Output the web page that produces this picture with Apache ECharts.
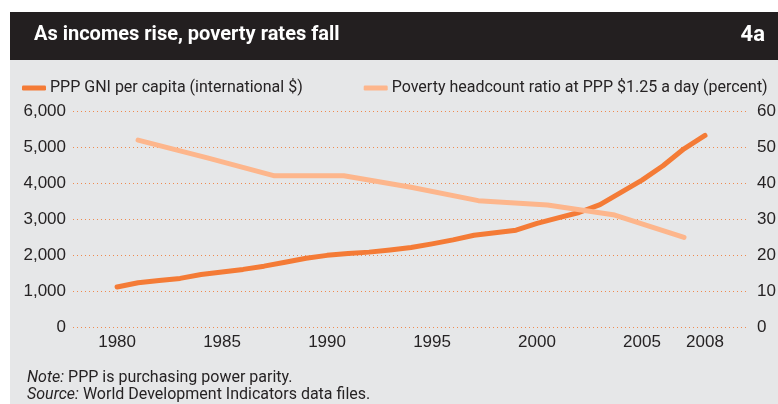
<!DOCTYPE html>
<html>
<head>
<meta charset="utf-8">
<script src="https://cdn.jsdelivr.net/npm/echarts@6/dist/echarts.min.js"></script>
<style>
  html, body { margin: 0; padding: 0; background: #fff; }
  #chart { width: 778px; height: 404px; }
</style>
</head>
<body>
<div id="chart"></div>
<script>
// Gegevens
const gniYears = [1980, 1981, 1982, 1983, 1984, 1985, 1986, 1987, 1988, 1989, 1990, 1991, 1992, 1993, 1994,
  1995, 1996, 1997, 1998, 1999, 2000, 2001, 2002, 2003, 2004, 2005, 2006, 2007, 2008];
const gniValues = [1110, 1230, 1290, 1350, 1460, 1530, 1600, 1690, 1800, 1910, 1990, 2040, 2080, 2140, 2210,
  2310, 2420, 2550, 2620, 2690, 2880, 3030, 3180, 3400, 3740, 4080, 4480, 4950, 5320];
const povertyYears = [1981, 1984.3, 1987.5, 1990.8, 1994, 1997.2, 2000.5, 2003.7, 2007];
const povertyValues = [51.9, 47.0, 42.0, 42.0, 38.8, 35.1, 33.9, 31.1, 24.9];
const xTickLabels = [1980, 1985, 1990, 1995, 2000, 2005, 2008];

const seriesNames = ['PPP GNI per capita (international $)', 'Poverty headcount ratio at PPP $1.25 a day (percent)'];

const chartInit = () => {
  const $chart = document.getElementById('chart');
  const chart = echarts.init($chart);

  const textColor = '#262324';
  const gridColor = '#ef8a4f';
  const narrowFont = 'Roboto';

  const options = {
    backgroundColor: '#ffffff',
    animation: false,
    graphic: [
      { type: 'rect', shape: { x: 10, y: 60, width: 768, height: 344 }, style: { fill: '#e6e7e8' }, z: -10 },
      { type: 'rect', shape: { x: 10, y: 12, width: 768, height: 48 }, style: { fill: '#231f20' }, z: -10 }
    ],
    title: [
      {
        text: 'As incomes rise, poverty rates fall',
        left: 34, top: 25, padding: 0,
        textStyle: { color: '#fff', fontFamily: narrowFont, fontWeight: 'bold', fontSize: 20 }
      },
      {
        text: '4a',
        right: 13, top: 24, padding: 0,
        textStyle: { color: '#fff', fontFamily: narrowFont, fontWeight: 'bold', fontSize: 22 }
      },
      {
        text: '{i|Note:} PPP is purchasing power parity.\n{i|Source:} World Development Indicators data files.',
        left: 27, top: 369, padding: 0,
        textStyle: {
          color: textColor, fontFamily: narrowFont, fontWeight: 'normal', fontSize: 16, lineHeight: 17,
          rich: { i: { fontStyle: 'italic', fontFamily: narrowFont, fontSize: 16, lineHeight: 17, color: textColor } }
        }
      }
    ],
    legend: {
      left: 22, top: 80, padding: 0,
      itemGap: 61, itemWidth: 24, itemHeight: 5,
      icon: 'roundRect',
      data: seriesNames,
      textStyle: { color: textColor, fontFamily: narrowFont, fontSize: 16, padding: [0, 0, 0, -1] }
    },
    grid: { left: 73, right: 31, top: 111, bottom: 77, containLabel: false, outerBoundsMode: 'none' },
    xAxis: {
      type: 'value',
      min: 1977.9,
      max: 2010,
      axisLine: { show: false },
      axisTick: { show: false },
      splitLine: { show: false },
      axisLabel: {
        customValues: xTickLabels,
        margin: 7,
        color: textColor,
        fontFamily: 'Liberation Sans',
        fontSize: 17,
        formatter: v => String(v)
      }
    },
    yAxis: [
      {
        type: 'value', min: 0, max: 6000, interval: 1000,
        axisLine: { show: false }, axisTick: { show: false },
        axisLabel: {
          margin: 7, color: textColor, fontFamily: 'Liberation Sans', fontSize: 17,
          formatter: v => v.toLocaleString('en-US')
        },
        splitLine: { lineStyle: { color: gridColor, type: [1, 3], width: 1 } }
      },
      {
        type: 'value', min: 0, max: 60, interval: 10,
        axisLine: { show: false }, axisTick: { show: false },
        axisLabel: { margin: 10, color: textColor, fontFamily: 'Liberation Sans', fontSize: 17 },
        splitLine: { show: false }
      }
    ],
    series: [
      {
        name: seriesNames[0],
        type: 'line',
        yAxisIndex: 0,
        showSymbol: false,
        color: '#f47b36',
        lineStyle: { width: 5, cap: 'round', join: 'round' },
        data: gniYears.map((y, i) => [y, gniValues[i]])
      },
      {
        name: seriesNames[1],
        type: 'line',
        yAxisIndex: 1,
        showSymbol: false,
        color: '#fdb68c',
        lineStyle: { width: 5, cap: 'round', join: 'round' },
        data: povertyYears.map((y, i) => [y, povertyValues[i]])
      }
    ]
  };

  chart.setOption(options);
};

document.addEventListener('DOMContentLoaded', chartInit);
</script>
</body>
</html>
